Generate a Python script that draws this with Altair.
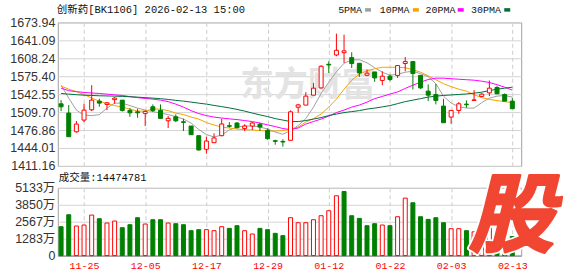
import altair as alt
import pandas as pd

# ---------------- data ----------------
dates = ["11-20", "11-21", "11-24", "11-25", "11-26", "11-27", "11-28",
         "12-01", "12-02", "12-03", "12-04", "12-05", "12-08", "12-09", "12-10", "12-11", "12-12",
         "12-15", "12-16", "12-17", "12-18", "12-19", "12-22", "12-23", "12-24", "12-25", "12-26",
         "12-29", "12-30", "12-31", "01-05", "01-06", "01-07", "01-08", "01-09", "01-12",
         "01-13", "01-14", "01-15", "01-16", "01-19", "01-20", "01-21", "01-22",
         "01-23", "01-26", "01-27", "01-28", "01-29", "01-30", "02-02", "02-03",
         "02-04", "02-05", "02-06", "02-09", "02-10", "02-11", "02-12", "02-13"]

opens = [1524.85, 1507.9, 1473.7, 1495.1, 1513.9, 1529.8, 1523.8, 1532.5, 1531.6, 1512.8,
         1510.2, 1507.3, 1519.4, 1512.8, 1493.8, 1501.1, 1492.0, 1484.2, 1466.5, 1441.6,
         1453.7, 1466.5, 1484.8, 1489.7, 1479.8, 1484.2, 1487.3, 1476.3, 1457.3, 1456.0,
         1458.0, 1518.6, 1522.5, 1540.7, 1554.0, 1597.3, 1614.3, 1618.5, 1609.5, 1599.1,
         1577.2, 1583.2, 1567.7, 1575.4, 1576.9, 1598.6, 1602.2, 1576.9, 1548.0, 1542.0,
         1520.7, 1500.6, 1512.8, 1524.3, 1531.1, 1538.4, 1544.9, 1554.8, 1542.0, 1529.8]
highs = [1531.6, 1522.5, 1493.3, 1524.9, 1559.0, 1534.0, 1528.0, 1537.1, 1531.6, 1517.5,
         1515.7, 1512.8, 1523.8, 1523.8, 1502.4, 1505.5, 1497.5, 1484.2, 1466.5, 1464.6,
         1470.8, 1497.5, 1491.4, 1491.4, 1487.3, 1491.4, 1490.2, 1479.8, 1459.1, 1459.9,
         1512.8, 1524.8, 1546.2, 1563.2, 1595.4, 1602.7, 1653.3, 1651.5, 1619.2, 1599.1,
         1587.6, 1583.2, 1584.5, 1578.5, 1594.9, 1610.6, 1602.2, 1576.9, 1560.3, 1561.4,
         1534.0, 1512.8, 1528.0, 1531.1, 1549.9, 1544.4, 1567.5, 1557.2, 1543.8, 1535.8]
lows = [1511.5, 1464.6, 1471.9, 1491.4, 1511.5, 1519.4, 1513.4, 1524.85, 1510.6, 1501.1,
        1499.3, 1484.2, 1509.7, 1498.2, 1480.6, 1491.4, 1475.0, 1468.3, 1439.2, 1433.6,
        1453.7, 1465.3, 1481.2, 1479.8, 1475.0, 1476.9, 1475.0, 1459.1, 1450.0, 1446.4,
        1458.0, 1508.4, 1522.5, 1540.7, 1552.9, 1581.4, 1611.9, 1599.7, 1590.5, 1574.1,
        1575.4, 1565.0, 1559.0, 1566.3, 1572.3, 1584.5, 1551.1, 1552.2, 1529.8, 1523.8,
        1490.2, 1488.3, 1506.6, 1517.6, 1531.1, 1537.1, 1538.9, 1543.1, 1529.8, 1515.8]
closes = [1519.4, 1464.6, 1487.8, 1513.3, 1531.6, 1526.1, 1526.7, 1535.3, 1512.8, 1508.4,
          1508.4, 1511.0, 1512.8, 1498.2, 1498.2, 1493.8, 1490.9, 1468.3, 1440.4, 1456.7,
          1462.3, 1487.9, 1483.7, 1481.1, 1484.2, 1489.7, 1482.4, 1461.0, 1456.2, 1454.9,
          1510.2, 1522.9, 1538.9, 1553.5, 1593.6, 1596.0, 1622.8, 1621.9, 1598.6, 1581.4,
          1581.0, 1572.3, 1575.4, 1569.4, 1594.9, 1602.2, 1580.3, 1554.0, 1540.7, 1531.1,
          1490.2, 1512.8, 1524.9, 1523.2, 1532.0, 1542.55, 1553.5, 1543.1, 1529.8, 1515.8]

ma5 = [1559.0, 1535.3, 1513.4, 1504.2, 1503.3, 1505.1, 1517.0, 1526.1, 1526.1, 1521.6,
       1517.0, 1513.4, 1510.6, 1507.9, 1505.1, 1501.5, 1496.9, 1489.6, 1477.8, 1468.6,
       1464.1, 1467.7, 1476.9, 1482.3, 1484.2, 1484.2, 1482.3, 1478.7, 1473.2, 1469.0,
       1475.9, 1485.1, 1497.8, 1518.8, 1543.8, 1564.5, 1583.6, 1599.1, 1605.1, 1605.5,
       1600.0, 1590.9, 1582.7, 1577.2, 1579.1, 1582.7, 1584.5, 1580.0, 1574.5, 1561.7,
       1538.9, 1526.1, 1519.7, 1517.0, 1517.0, 1527.0, 1535.3, 1538.9, 1540.2, 1537.1]
ma10 = [1557.2, 1551.7, 1547.1, 1542.0, 1535.3, 1529.8, 1525.2, 1521.6, 1518.8, 1515.2,
        1511.5, 1511.5, 1515.2, 1515.2, 1512.4, 1507.9, 1505.1, 1500.6, 1496.9, 1490.5,
        1486.0, 1482.3, 1480.5, 1478.7, 1477.4, 1476.9, 1475.9, 1475.0, 1475.0, 1475.9,
        1478.1, 1482.3, 1491.5, 1497.8, 1506.1, 1518.8, 1533.4, 1551.7, 1568.1, 1579.1,
        1585.4, 1589.1, 1591.8, 1591.8, 1591.8, 1590.9, 1587.3, 1582.7, 1576.3, 1569.0,
        1561.7, 1556.2, 1551.7, 1548.0, 1541.6, 1536.2, 1532.9, 1530.7, 1528.9, 1527.0]
ma20 = [1553.5, 1548.9, 1547.1, 1545.7, 1544.7, 1543.8, 1542.6, 1541.3, 1540.2, 1538.0,
        1536.2, 1534.7, 1533.4, 1531.6, 1528.9, 1524.3, 1518.8, 1512.4, 1507.0, 1503.3,
        1500.6, 1498.8, 1497.3, 1496.0, 1494.2, 1492.4, 1489.6, 1486.3, 1483.2, 1479.6,
        1477.8, 1480.5, 1487.8, 1492.4, 1496.9, 1502.4, 1508.8, 1513.4, 1518.8, 1522.5,
        1528.0, 1534.3, 1538.4, 1542.6, 1546.6, 1553.0, 1559.0, 1564.5, 1569.4, 1571.8,
        1571.8, 1570.8, 1569.9, 1569.0, 1568.1, 1566.3, 1563.9, 1559.9, 1555.3, 1549.9]
ma30 = [1543.8, 1542.6, 1541.6, 1540.7, 1540.2, 1539.6, 1539.3, 1538.9, 1538.4, 1537.8,
        1537.1, 1536.2, 1535.3, 1534.3, 1532.9, 1531.2, 1529.8, 1528.0, 1526.1, 1524.3,
        1521.9, 1519.7, 1517.4, 1514.6, 1511.5, 1507.9, 1504.6, 1501.5, 1497.8, 1495.1,
        1492.4, 1492.4, 1494.2, 1496.9, 1499.7, 1503.3, 1506.1, 1508.8, 1510.6, 1512.4,
        1515.2, 1517.0, 1519.2, 1521.6, 1525.2, 1528.9, 1531.6, 1534.3, 1537.1, 1538.9,
        1540.2, 1541.1, 1542.0, 1542.9, 1544.4, 1546.2, 1548.9, 1551.7, 1553.5, 1555.3]

# volume in 万
volumes = [2189, 3095, 2239, 2315, 3070, 2793, 2466, 2617, 2114, 2340,
           2869, 2390, 2718, 2718, 2466, 2416, 2340, 1887, 1963, 1963,
           1887, 2189, 2063, 2265, 1887, 1635, 2063, 1963, 1686, 1510,
           2869, 2491, 2491, 2718, 3020, 3397, 4529, 4856, 3020, 2818,
           2265, 2416, 2315, 2265, 2944, 4353, 4001, 2944, 2743, 2869,
           2491, 2038, 2038, 1887, 1800, 1761, 2100, 1900, 1635, 1447.48]
vol_dir = ["down", "down", "up", "up", "up", "down", "up", "up", "down", "down",
           "down", "up", "down", "down", "up", "down", "down", "down", "down", "up",
           "up", "up", "down", "down", "up", "up", "down", "down", "down", "down",
           "up", "up", "up", "up", "up", "up", "up", "down", "down", "down",
           "down", "down", "up", "down", "up", "up", "down", "down", "down", "down",
           "down", "up", "up", "down", "up", "up", "up", "down", "down", "down"]

label_dates = ["11-25", "12-05", "12-17", "12-29", "01-12", "01-22", "02-03", "02-13"]
price_ticks = [1411.16, 1444.01, 1476.86, 1509.70, 1542.55, 1575.40, 1608.24, 1641.09, 1673.94]
vol_ticks = [0, 1283.25, 2566.5, 3849.75, 5133]
ma_names = ["5PMA", "10PMA", "20PMA", "30PMA"]
ma_colors = ["#a0a0a0", "#f5a300", "#ff00ff", "#006f3c"]

title_text = "创新药[BK1106] 2026-02-13 15:00"
vol_text = "成交量:14474781"

# ---------------- frames ----------------
df = pd.DataFrame({"date": dates, "open": opens, "high": highs, "low": lows,
                   "close": closes, "vol": volumes, "vdir": vol_dir})
df["dir"] = ["up" if c >= o else "down" for o, c in zip(opens, closes)]

ma_df = pd.concat([
    pd.DataFrame({"date": dates, "i": list(range(len(dates))), "value": vals, "ma": name})
    for name, vals in zip(ma_names, [ma5, ma10, ma20, ma30])
])

RED = "#ff0000"
GREEN = "#008000"
MONO = "'Liberation Mono', 'Noto Sans CJK SC'"
SANS = "'Liberation Sans', 'Noto Sans CJK SC'"
CJK = "'Noto Sans CJK SC'"

W, H1, H2 = 465, 144, 68

xscale = alt.Scale(type="point", padding=0.795, align=0.27)
grid_kw = dict(grid=True, gridColor="#cccccc", gridDash=[4, 3])

x_price = alt.X("date:O", sort=dates, scale=xscale,
                axis=alt.Axis(values=label_dates, labels=False, ticks=False, domain=False,
                              title=None, **grid_kw))
pscale = alt.Scale(domain=[1411.16, 1673.94], nice=False, zero=False)
paxis = alt.Axis(values=price_ticks, format=".2f", grid=True, gridColor="#d4d4d4",
                 ticks=False, domain=False, labelPadding=3, title=None,
                 labelFont=SANS, labelFontSize=12.5, labelColor="#333333")

fill_s = alt.Scale(domain=["up", "down"], range=["#ffffff", GREEN])
stroke_s = alt.Scale(domain=["up", "down"], range=[RED, GREEN])


def one(s):
    return pd.DataFrame({"t": [s]})


def text_layer(s, x, y, **kw):
    return alt.Chart(one(s)).mark_text(align="left", baseline="middle", **kw).encode(
        text="t:N", x=alt.value(x), y=alt.value(y))


watermark = alt.Chart(one("东方财富")).mark_text(
    font=CJK, fontSize=34, fontWeight="bold", color="#e3e3e3", align="center",
    baseline="middle").encode(text="t:N", x=alt.value(251), y=alt.value(64))

ma_lines = alt.Chart(ma_df).mark_line(strokeWidth=1).encode(
    x=x_price,
    y=alt.Y("value:Q", scale=pscale, axis=paxis),
    color=alt.Color("ma:N", scale=alt.Scale(domain=ma_names, range=ma_colors), legend=None),
    order=alt.Order("i:Q"),
)

wicks = alt.Chart(df).mark_rule(strokeWidth=1).encode(
    x=x_price,
    y=alt.Y("low:Q", scale=pscale, axis=paxis),
    y2="high:Q",
    stroke=alt.Stroke("dir:N", scale=stroke_s, legend=None),
)

bodies = alt.Chart(df).mark_bar(width=4, strokeWidth=1).encode(
    x=x_price,
    y=alt.Y("open:Q", scale=pscale, axis=paxis),
    y2="close:Q",
    fill=alt.Fill("dir:N", scale=fill_s, legend=None),
    stroke=alt.Stroke("dir:N", scale=stroke_s, legend=None),
)

header = text_layer(title_text, -1, -12.5, font=MONO, fontSize=10.5, color="#111111")

legend_layers = []
leg_text_x = [281.3, 323, 369, 414.7]
leg_rect_x = [308.3, 356.3, 401.3, 448]
for name, col, tx, rx in zip(ma_names, ma_colors, leg_text_x, leg_rect_x):
    legend_layers.append(text_layer(name, tx, -12.5, font=MONO, fontSize=10, color="#111111"))
    legend_layers.append(
        alt.Chart(one(name)).mark_rect(color=col).encode(
            x=alt.value(rx), x2=alt.value(rx + 6), y=alt.value(-14.3), y2=alt.value(-10.8)))

bound_top = alt.Chart(one("b")).mark_rule(opacity=0).encode(
    x=alt.value(-57), x2=alt.value(521), y=alt.value(-21))

price = alt.layer(watermark, ma_lines, wicks, bodies, header, *legend_layers, bound_top).properties(
    width=W, height=H1)

# volume panel
x_vol = alt.X("date:O", sort=dates, scale=xscale,
              axis=alt.Axis(values=label_dates, labelColor=RED, labelFont=MONO, labelFontSize=10,
                            labelAngle=0, labelPadding=5, ticks=False, domain=True,
                            domainColor="#888888", title=None, **grid_kw))
vaxis = alt.Axis(values=vol_ticks,
                 labelExpr="datum.value == 0 ? '0' : format(datum.value, '.0f') + '万'",
                 grid=True, gridColor="#d4d4d4", ticks=False, domain=False, labelPadding=3,
                 title=None, labelFont=SANS, labelFontSize=12.5, labelColor="#333333")

vbars = alt.Chart(df).mark_bar(width=4, strokeWidth=1).encode(
    x=x_vol,
    y=alt.Y("vol:Q", scale=alt.Scale(domain=[0, 5133], nice=False), axis=vaxis),
    fill=alt.Fill("vdir:N", scale=fill_s, legend=None),
    stroke=alt.Stroke("vdir:N", scale=stroke_s, legend=None),
)

vol_label = text_layer(vol_text, 1, -9.5, font=MONO, fontSize=10.5, color="#111111")

gu_kw = dict(font=CJK, fontSize=86, fontWeight="bold", fontStyle="italic",
             align="center", baseline="middle")
gu_halo = alt.Chart(one("股")).mark_text(
    color="#ffffff", stroke="#ffffff", strokeWidth=6, strokeJoin="round", **gu_kw).encode(
    text="t:N", x=alt.value(455), y=alt.value(31))
gu = alt.Chart(one("股")).mark_text(
    color="#f04632", stroke="#f04632", strokeWidth=2.5, strokeJoin="round", **gu_kw).encode(
    text="t:N", x=alt.value(455), y=alt.value(31))

bound_bot = alt.Chart(one("b")).mark_rule(opacity=0).encode(
    x=alt.value(-57), x2=alt.value(521), y=alt.value(H2 + 21))

volume = alt.layer(vbars, vol_label, gu_halo, gu, bound_bot).properties(width=W, height=H2)

chart = alt.vconcat(price, volume, spacing=22, bounds="flush").properties(
    padding=0, background="white"
).configure_view(stroke="#a0a0a0", strokeWidth=1)

chart.save("out.html", embed_options={"renderer": "svg", "actions": False})
